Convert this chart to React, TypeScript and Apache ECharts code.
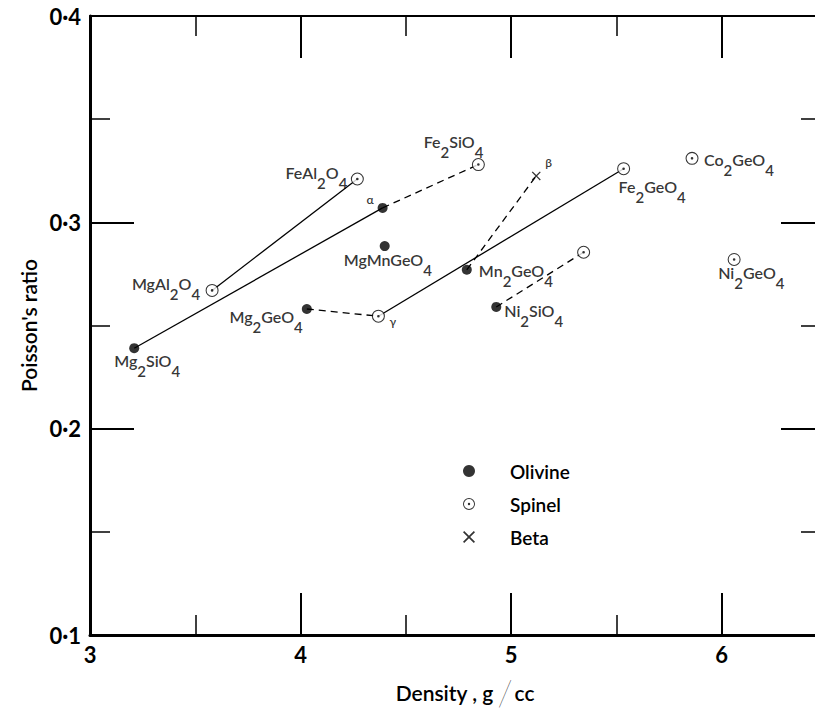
import React, { useEffect, useRef } from 'react';
import * as echarts from 'echarts';

// ---------- data ----------
const olivineIds = ['Mg2SiO4', 'Mg2GeO4', 'alpha', 'MgMnGeO4', 'Mn2GeO4', 'Ni2SiO4'];
const olivineLabels = ['Mg2SiO4', 'Mg2GeO4', 'α', 'MgMnGeO4', 'Mn2GeO4', 'Ni2SiO4'];
const olivineDensity = [3.21, 4.03, 4.39, 4.4, 4.79, 4.93];
const olivineRatio = [0.239, 0.258, 0.307, 0.2885, 0.277, 0.259];

const spinelIds = ['MgAl2O4', 'FeAl2O4', 'Fe2SiO4', 'gamma', 'Fe2GeO4', 'Co2GeO4', 'Ni2GeO4', 'Ni2SiO4sp'];
const spinelLabels = ['MgAl2O4', 'FeAl2O4', 'Fe2SiO4', 'γ', 'Fe2GeO4', 'Co2GeO4', 'Ni2GeO4', ''];
const spinelDensity = [3.58, 4.27, 4.845, 4.37, 5.535, 5.86, 6.06, 5.345];
const spinelRatio = [0.267, 0.321, 0.328, 0.2545, 0.326, 0.331, 0.282, 0.2855];

const betaIds = ['beta'];
const betaLabels = ['β'];
const betaDensity = [5.12];
const betaRatio = [0.3225];

const solidTies = [['MgAl2O4', 'FeAl2O4'], ['Mg2SiO4', 'alpha'], ['gamma', 'Fe2GeO4']];
const dashedTies = [['alpha', 'Fe2SiO4'], ['Mg2GeO4', 'gamma'], ['Mn2GeO4', 'beta'], ['Ni2SiO4', 'Ni2SiO4sp']];

const legendNames = ['Olivine', 'Spinel', 'Beta'];
const yAxisTitle = "Poisson's ratio";

// ---------- styling / placement (not data) ----------
const FONT = 'Lato, "DejaVu Sans", sans-serif';
const labelPlace: Record<string, [number, number, string]> = {
  Mg2SiO4: [-20, 13, 'left'],
  MgAl2O4: [-12, -6, 'right'],
  Mg2GeO4: [-4, 9, 'right'],
  FeAl2O4: [-10, -6, 'right'],
  alpha: [-9, -8, 'right'],
  Fe2SiO4: [5, -22, 'right'],
  MgMnGeO4: [-41, 14, 'left'],
  Mn2GeO4: [12, 2, 'left'],
  beta: [9, -13, 'left'],
  gamma: [11, 5, 'left'],
  Fe2GeO4: [-5, 19, 'left'],
  Co2GeO4: [12, 2, 'left'],
  Ni2GeO4: [-16, 14, 'left'],
  Ni2SiO4: [8, 5, 'left'],
};

const SPINEL_SYMBOL =
  'path://M0,-10A10,10,0,1,1,0,10A10,10,0,1,1,0,-10ZM0,-8.4A8.4,8.4,0,1,0,0,8.4A8.4,8.4,0,1,0,0,-8.4ZM0,-2A2,2,0,1,1,0,2A2,2,0,1,1,0,-2Z';
const BETA_SYMBOL = 'path://M-5,-4L-4,-5L0,-1L4,-5L5,-4L1,0L5,4L4,5L0,1L-4,5L-5,4L-1,0Z';

function formula(txt: string): string {
  if (!/\d/.test(txt)) return `{g|${txt}}`;
  const parts = txt.match(/\d+|\D+/g) || [];
  return parts.map((p) => (/\d/.test(p) ? `{s|${p}}` : `{n|${p}}`)).join('');
}

const richStyles = {
  n: { fontSize: 16, fontFamily: FONT, fontWeight: 600, color: '#000', lineHeight: 18, verticalAlign: 'top' },
  s: { fontSize: 15, fontFamily: FONT, fontWeight: 600, color: '#000', lineHeight: 26, verticalAlign: 'bottom' },
  g: { fontSize: 12, fontFamily: FONT, fontWeight: 600, color: '#000', lineHeight: 14 },
};

function makeData(ids: string[], labels: string[], xs: number[], ys: number[]) {
  return ids.map((id, i) => {
    const txt = labels[i];
    const pl = labelPlace[id];
    const hasSub = /\d/.test(txt);
    return {
      name: id,
      value: [xs[i], ys[i]],
      label: txt && pl
        ? {
            show: true,
            position: 'inside',
            formatter: formula(txt),
            align: pl[2],
            verticalAlign: 'middle',
            offset: [pl[0], pl[1] + (hasSub ? 4 : 0)],
            rich: richStyles,
          }
        : { show: false },
    };
  });
}

function findPoint(id: string): number[] {
  let i = olivineIds.indexOf(id);
  if (i >= 0) return [olivineDensity[i], olivineRatio[i]];
  i = spinelIds.indexOf(id);
  if (i >= 0) return [spinelDensity[i], spinelRatio[i]];
  i = betaIds.indexOf(id);
  return [betaDensity[i], betaRatio[i]];
}

export default function App() {
  const ref = useRef<HTMLDivElement>(null);
  useEffect(() => {
    if (!ref.current) return;
    const chart = echarts.init(ref.current, undefined, { renderer: 'svg' });

    const tieSeries: any[] = [];
    solidTies.forEach((t) =>
      tieSeries.push({
        type: 'line', z: 1, silent: true, symbol: 'none',
        data: [findPoint(t[0]), findPoint(t[1])],
        lineStyle: { color: '#000', width: 1.3, type: 'solid' },
      })
    );
    dashedTies.forEach((t) =>
      tieSeries.push({
        type: 'line', z: 1, silent: true, symbol: 'none',
        data: [findPoint(t[0]), findPoint(t[1])],
        lineStyle: { color: '#000', width: 1.3, type: [7, 5] },
      })
    );

    const tickStyle = { color: '#000', width: 2 };
    const minorStyle = { color: '#000', width: 1.5 };
    const ghostLabel = () => ({ show: true, color: 'rgba(0,0,0,0)', fontSize: 6, margin: 2, formatter: () => '\u00a0' });

    chart.setOption({
      animation: false,
      backgroundColor: '#fff',
      grid: { left: 90, top: 16, width: 842, height: 619, outerBoundsMode: 'none', containLabel: false },
      legend: {
        data: legendNames,
        orient: 'vertical',
        left: 458,
        top: 456,
        itemWidth: 12,
        itemHeight: 12,
        itemGap: 13,
        selectedMode: false,
        textStyle: { fontSize: 19, fontFamily: FONT, fontWeight: 600, color: '#000', padding: [0, 0, 0, 30], lineHeight: 20 },
      },
      xAxis: [
        {
          type: 'value', position: 'bottom', min: 3, max: 7, interval: 1,
          axisLine: { show: true, lineStyle: { color: '#000', width: 3 } },
          axisTick: { show: true, inside: true, length: 42, lineStyle: { ...tickStyle } },
          minorTick: { show: true, splitNumber: 2, length: 20, lineStyle: { ...minorStyle } },
          splitLine: { show: false },
          axisLabel: {
            fontSize: 22, fontFamily: FONT, fontWeight: 'bold', color: '#000', margin: 8,
            formatter: (v: number) => (v <= 6 ? String(v) : ''),
          },
          name: '{a|Density , g}{sl|/}{a|cc}',
          nameLocation: 'middle',
          nameGap: 39,
          nameTextStyle: {
            padding: [0, 92, 0, 0],
            rich: {
              a: { fontSize: 21, fontFamily: FONT, fontWeight: 600, color: '#000' },
              sl: { fontSize: 36, fontFamily: FONT, color: '#000', fontWeight: 'lighter', padding: [0, 2, 0, 4] },
            },
          },
        },
        {
          type: 'value', position: 'top', min: 3, max: 7, interval: 1,
          axisLine: { show: true, lineStyle: { color: '#000', width: 2 } },
          axisTick: { show: true, inside: true, length: 42, lineStyle: { ...tickStyle } },
          minorTick: { show: true, splitNumber: 2, length: 20, lineStyle: { ...minorStyle } },
          splitLine: { show: false },
          axisLabel: ghostLabel(),
        },
      ],
      yAxis: [
        {
          type: 'value', position: 'left', min: 0.1, max: 0.4, interval: 0.1,
          axisLine: { show: true, lineStyle: { color: '#000', width: 3 } },
          axisTick: { show: true, inside: true, length: 44, lineStyle: { ...tickStyle } },
          minorTick: { show: true, splitNumber: 2, length: 20, lineStyle: { ...minorStyle } },
          splitLine: { show: false },
          axisLabel: {
            fontSize: 22, fontFamily: FONT, fontWeight: 'bold', color: '#000', margin: 9,
            formatter: (v: number) => v.toFixed(1).replace('.', '·'),
          },
          name: yAxisTitle,
          nameLocation: 'middle',
          nameGap: 48,
          nameRotate: 90,
          nameTextStyle: { fontSize: 21, fontFamily: FONT, fontWeight: 600, color: '#000' },
        },
        {
          type: 'value', position: 'right', offset: -111, min: 0.1, max: 0.4, interval: 0.1,
          axisLine: { show: true, lineStyle: { color: '#000', width: 2 } },
          axisTick: { show: true, inside: true, length: 40, lineStyle: { ...tickStyle } },
          minorTick: { show: true, splitNumber: 2, length: 20, lineStyle: { ...minorStyle } },
          splitLine: { show: false },
          axisLabel: ghostLabel(),
        },
      ],
      series: [
        ...tieSeries,
        {
          name: 'spinelBg', type: 'scatter', z: 2, silent: true,
          symbol: 'circle', symbolSize: 12,
          itemStyle: { color: '#fff' },
          data: spinelIds.map((_, i) => [spinelDensity[i], spinelRatio[i]]),
        },
        {
          name: 'Olivine', type: 'scatter', z: 3,
          symbol: 'circle', symbolSize: 10,
          itemStyle: { color: '#000' },
          data: makeData(olivineIds, olivineLabels, olivineDensity, olivineRatio),
        },
        {
          name: 'Spinel', type: 'scatter', z: 3,
          symbol: SPINEL_SYMBOL, symbolSize: 13,
          itemStyle: { color: '#000' },
          data: makeData(spinelIds, spinelLabels, spinelDensity, spinelRatio),
        },
        {
          name: 'Beta', type: 'scatter', z: 3,
          symbol: BETA_SYMBOL, symbolSize: 9,
          itemStyle: { color: '#000' },
          data: makeData(betaIds, betaLabels, betaDensity, betaRatio),
        },
      ],
    });
    return () => chart.dispose();
  }, []);
  return (
    <div style={{ position: 'absolute', left: 0, top: 0, width: 815, height: 718, overflow: 'hidden', background: '#fff' }}>
      <div ref={ref} style={{ width: 960, height: 718 }} />
    </div>
  );
}
